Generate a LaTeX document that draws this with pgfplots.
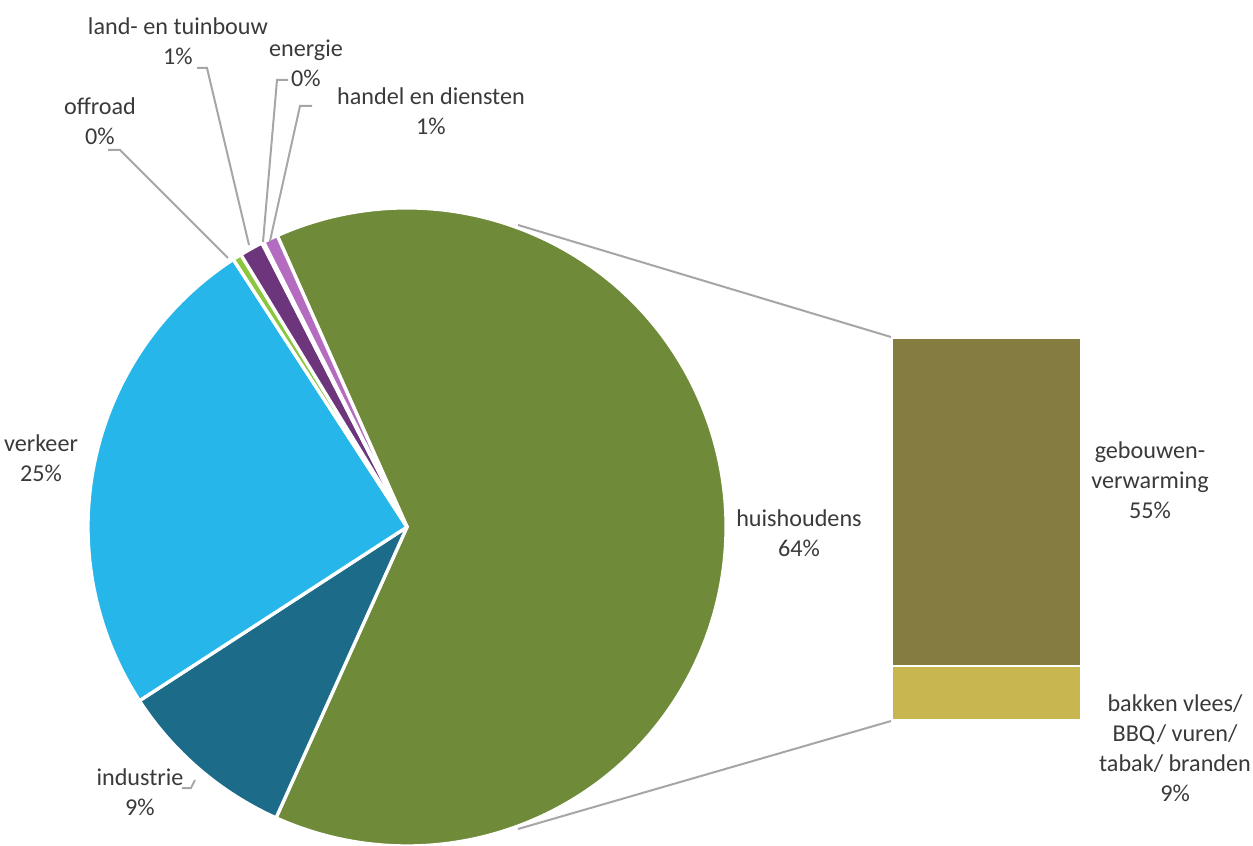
\documentclass[border=0pt]{standalone}
\usepackage{pgfplots}
\pgfplotsset{compat=1.18}
\usepackage{fontspec}
\setmainfont{Carlito}
\definecolor{huis}{HTML}{6F8B3A}
\definecolor{indu}{HTML}{1B6B89}
\definecolor{verk}{HTML}{27B6EA}
\definecolor{offr}{HTML}{8CC63F}
\definecolor{land}{HTML}{6C357C}
\definecolor{ener}{HTML}{8B2E2E}
\definecolor{hand}{HTML}{B36CC0}
\definecolor{gebw}{HTML}{857C3F}
\definecolor{bakk}{HTML}{C8B650}
\definecolor{txt}{HTML}{3A3A3A}
\definecolor{lead}{HTML}{A6A6A6}
\newcommand\pieR{191.4pt}
% #1 cumulative percent before slice, #2 percent, #3 colour
\newcommand\slice[3]{%
  \fill[#3, draw=white, line width=2pt, line join=round] (axis cs:407,318) -- ++({114-3.6*(#1)}:\pieR)
    arc[start angle={114-3.6*(#1)}, delta angle={-3.6*(#2)}, radius=\pieR] -- cycle;}
\begin{document}
\begin{tikzpicture}
\begin{axis}[name=main, at={(0,0)}, anchor=south west, scale only axis,
  width=751.8pt, height=507pt, xmin=0, xmax=1253, ymin=0, ymax=845,
  hide axis, clip=false]
  % pie slices: start (cumulative %), share (%)
  \slice{0}{63.4}{huis}
  \slice{63.4}{9.1}{indu}
  \slice{72.5}{25}{verk}
  \slice{97.5}{0.45}{offr}
  \slice{97.95}{1.2}{land}
  \slice{99.15}{0.1}{ener}
  \slice{99.25}{0.75}{hand}
  % connector lines
  \draw[lead, line width=1.2pt] (axis cs:518,620) -- (axis cs:891,508);
  \draw[lead, line width=1.2pt] (axis cs:518,16) -- (axis cs:891,124);
  % leader lines
  \draw[lead, line width=1.2pt] (axis cs:108,695) -- (axis cs:120,695) -- (axis cs:228,587);
  \draw[lead, line width=1.2pt] (axis cs:197,777) -- (axis cs:207,777) -- (axis cs:249,600);
  \draw[lead, line width=1.2pt] (axis cs:288,765) -- (axis cs:277,765) -- (axis cs:263,603);
  \draw[lead, line width=1.2pt] (axis cs:312,739) -- (axis cs:300,739) -- (axis cs:270,604);
  \draw[lead, line width=1.2pt] (axis cs:182,57) -- (axis cs:191,57) -- (axis cs:195,65);
  % labels
  \tikzset{lab/.style={font=\fontsize{14.5}{18}\selectfont, text=txt, align=center, inner sep=0pt}}
  \node[lab] at (axis cs:178,804) {land- en tuinbouw\\1\%};
  \node[lab] at (axis cs:306,782) {energie\\0\%};
  \node[lab] at (axis cs:431,734) {handel en diensten\\1\%};
  \node[lab] at (axis cs:100,724) {offroad\\0\%};
  \node[lab] at (axis cs:41,387) {verkeer\\25\%};
  \node[lab] at (axis cs:140,53) {industrie\\9\%};
  \node[lab] at (axis cs:799,312) {huishoudens\\64\%};
  \node[lab] at (axis cs:1150,365) {gebouwen-\\verwarming\\55\%};
  \node[lab] at (axis cs:1175,97) {bakken vlees/\\BBQ/ vuren/\\tabak/ branden\\9\%};
\end{axis}
\begin{axis}[at={(535.2pt,75pt)}, anchor=south west, scale only axis,
  width=113.4pt, height=229.2pt, xmin=-0.5, xmax=0.5, ymin=0, ymax=64,
  hide axis, ybar stacked, bar width=113.4pt, clip=false]
  \addplot[fill=bakk, draw=white, line width=1.4pt] coordinates {(0,9)};
  \addplot[fill=gebw, draw=white, line width=1.4pt] coordinates {(0,55)};
\end{axis}
\pgfresetboundingbox
\path[use as bounding box] (0,0) rectangle (751.8pt,507pt);
\end{tikzpicture}
\end{document}
